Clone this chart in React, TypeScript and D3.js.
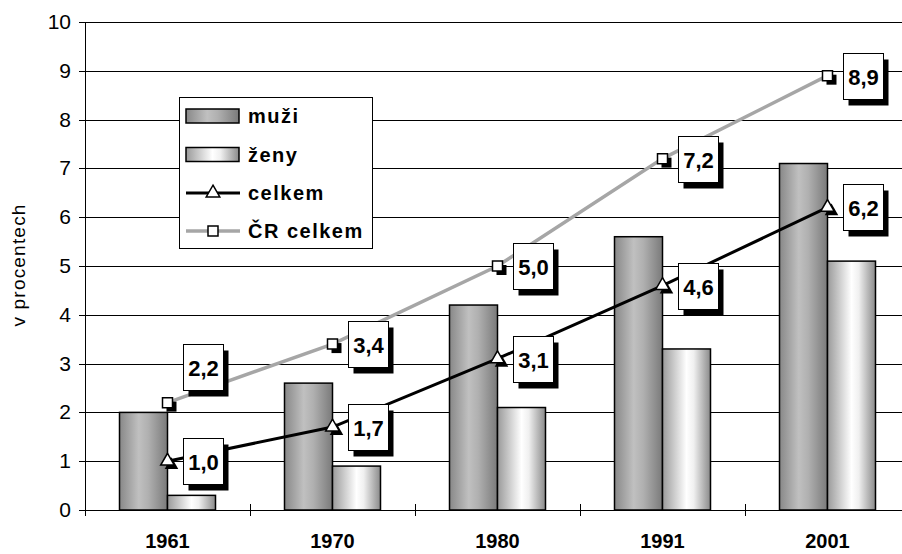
import React from "react";
import * as d3 from "d3";

const categories = ["1961", "1970", "1980", "1991", "2001"];
const muzi = [2.0, 2.6, 4.2, 5.6, 7.1];
const zeny = [0.3, 0.9, 2.1, 3.3, 5.1];
const celkem = [1.0, 1.7, 3.1, 4.6, 6.2];
const crCelkem = [2.2, 3.4, 5.0, 7.2, 8.9];
const celkemLabels = ["1,0", "1,7", "3,1", "4,6", "6,2"];
const crLabels = ["2,2", "3,4", "5,0", "7,2", "8,9"];
const yTicks = [0, 1, 2, 3, 4, 5, 6, 7, 8, 9, 10];
const legendNames = ["muži", "ženy", "celkem", "ČR celkem"];

const W = 902;
const H = 554;
const FONT = "'Liberation Sans', Arial, sans-serif";

export default function App() {
  const x = d3.scaleBand<string>().domain(categories).range([85, 910]).paddingInner(0).paddingOuter(0);
  const y = d3.scaleLinear().domain([0, 10]).range([510, 22]);
  const bw = 48;
  const cx = (c: string) => (x(c) as number) + x.bandwidth() / 2;
  const yr = (v: number) => Math.round(y(v)) + 0.5;

  const line = d3
    .line<number>()
    .x((_, i) => cx(categories[i]))
    .y((d) => y(d));

  const tri = d3.symbol().type(d3.symbolTriangle).size(80)() as string;
  const sq = d3.symbol().type(d3.symbolSquare).size(100)() as string;

  const label = (px: number, py: number, t: string, key: string, dy = 0) => {
    const bx = Math.round(px + 15) + 0.5;
    const by = Math.round(py - 23 + dy) + 0.5;
    return (
      <g key={key}>
        <rect x={bx + 5} y={by + 6} width={40} height={46} fill="#000" />
        <rect x={bx} y={by} width={40} height={46} fill="#fff" stroke="#000" strokeWidth={1} />
        <text x={bx + 20} y={by + 31} textAnchor="middle" fontFamily={FONT} fontWeight="bold" fontSize={22}>
          {t}
        </text>
      </g>
    );
  };

  return (
    <svg width={W} height={H} style={{ position: "absolute", left: 0, top: 0, background: "#fff" }}>
      <defs>
        <linearGradient id="gMuzi" x1="0" x2="1" y1="0" y2="0">
          <stop offset="0" stopColor="#888888" />
          <stop offset="0.4" stopColor="#c0c0c0" />
          <stop offset="0.6" stopColor="#b0b0b0" />
          <stop offset="1" stopColor="#7a7a7a" />
        </linearGradient>
        <linearGradient id="gZeny" x1="0" x2="1" y1="0" y2="0">
          <stop offset="0" stopColor="#9a9a9a" />
          <stop offset="0.5" stopColor="#ffffff" />
          <stop offset="0.65" stopColor="#f0f0f0" />
          <stop offset="1" stopColor="#8a8a8a" />
        </linearGradient>
      </defs>
      <rect x={0} y={0} width={W} height={H} fill="#fff" />

      {/* gridlines */}
      {yTicks.filter((t) => t > 0).map((t) => (
        <line key={"g" + t} x1={85} x2={W} y1={yr(t)} y2={yr(t)} stroke="#000" strokeWidth={1} />
      ))}
      {/* y axis */}
      <line x1={85.5} x2={85.5} y1={yr(10)} y2={516} stroke="#000" strokeWidth={1} />
      {yTicks.map((t) => (
        <g key={"yt" + t}>
          <line x1={79} x2={85} y1={yr(t)} y2={yr(t)} stroke="#000" strokeWidth={1} />
          <text x={71} y={y(t) + 7} textAnchor="end" fontFamily={FONT} fontSize={21}>
            {t}
          </text>
        </g>
      ))}
      <text
        transform={`translate(25, ${265}) rotate(-90)`}
        textAnchor="middle"
        fontFamily={FONT}
        fontSize={19}
        letterSpacing={1.2}
      >
        v procentech
      </text>

      {/* bars */}
      {categories.map((c, i) => (
        <g key={"b" + c}>
          <rect x={cx(c) - bw} y={y(muzi[i])} width={bw} height={y(0) - y(muzi[i])} fill="url(#gMuzi)" stroke="#000" strokeWidth={1.5} />
          <rect x={cx(c)} y={y(zeny[i])} width={bw} height={y(0) - y(zeny[i])} fill="url(#gZeny)" stroke="#000" strokeWidth={1.5} />
        </g>
      ))}

      {/* x axis */}
      <line x1={85} x2={W} y1={yr(0)} y2={yr(0)} stroke="#000" strokeWidth={1} />
      {categories.slice(1).map((c) => (
        <line key={"xt" + c} x1={Math.round(x(c) as number) + 0.5} x2={Math.round(x(c) as number) + 0.5} y1={504} y2={516} stroke="#000" strokeWidth={1} />
      ))}
      {categories.map((c) => (
        <text key={"xl" + c} x={cx(c)} y={548} textAnchor="middle" fontFamily={FONT} fontWeight="bold" fontSize={20}>
          {c}
        </text>
      ))}

      {/* lines */}
      <path d={line(crCelkem) as string} fill="none" stroke="#a6a6a6" strokeWidth={3.5} />
      <path d={line(celkem) as string} fill="none" stroke="#000" strokeWidth={3} />

      {/* markers */}
      {categories.map((c, i) => (
        <g key={"m" + c}>
          <path d={sq} transform={`translate(${cx(c) + 4},${y(crCelkem[i]) + 4})`} fill="#000" />
          <path d={sq} transform={`translate(${cx(c)},${y(crCelkem[i])})`} fill="#fff" stroke="#000" strokeWidth={1.5} />
          <path d={tri} transform={`translate(${cx(c) + 4},${y(celkem[i]) + 4})`} fill="#000" />
          <path d={tri} transform={`translate(${cx(c)},${y(celkem[i])})`} fill="#fff" stroke="#000" strokeWidth={1.5} />
        </g>
      ))}

      {/* labels */}
      {categories.map((c, i) => label(cx(c), y(crCelkem[i]), crLabels[i], "lc" + c, i === 0 ? -36 : 0))}
      {categories.map((c, i) => label(cx(c), y(celkem[i]), celkemLabels[i], "lk" + c))}

      {/* legend */}
      <g>
        <rect x={179.5} y={97.5} width={193} height={151} fill="#fff" stroke="#000" strokeWidth={1} />
        {legendNames.map((n, i) => {
          const cy = [116, 154.5, 193, 231][i];
          return (
            <g key={"lg" + n}>
              {i === 0 && <rect x={186} y={cy - 7} width={53} height={14} fill="url(#gMuzi)" stroke="#000" strokeWidth={1.5} />}
              {i === 1 && <rect x={186} y={cy - 7} width={53} height={14} fill="url(#gZeny)" stroke="#000" strokeWidth={1.5} />}
              {i === 2 && (
                <g>
                  <line x1={186} x2={240} y1={cy} y2={cy} stroke="#000" strokeWidth={3} />
                  <path d={tri} transform={`translate(213,${cy})`} fill="#fff" stroke="#000" strokeWidth={1.5} />
                </g>
              )}
              {i === 3 && (
                <g>
                  <line x1={186} x2={240} y1={cy} y2={cy} stroke="#a6a6a6" strokeWidth={3.5} />
                  <path d={sq} transform={`translate(213,${cy})`} fill="#fff" stroke="#000" strokeWidth={1.5} />
                </g>
              )}
              <text x={248} y={cy + 7} fontFamily={FONT} fontWeight="bold" fontSize={20} letterSpacing={1.5}>
                {n}
              </text>
            </g>
          );
        })}
      </g>
    </svg>
  );
}
